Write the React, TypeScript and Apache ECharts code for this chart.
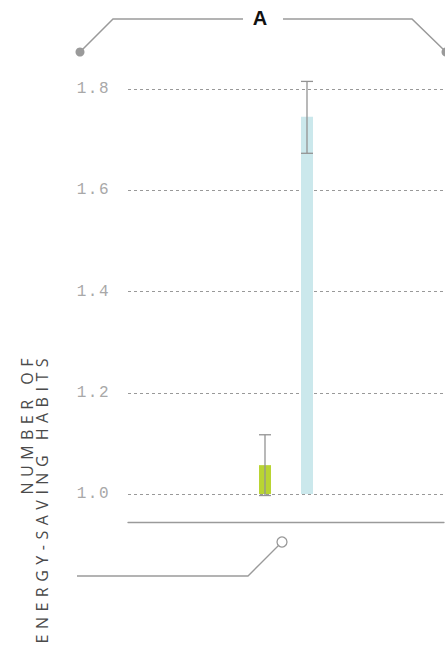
import React, { useEffect, useRef } from "react";
import * as echarts from "echarts";

// ---- data ----
const categories = ["A"];
const seriesNames = ["Group 1", "Group 2"];
const meanValues = [1.057, 1.745];
const errorLow = [0.997, 1.673];
const errorHigh = [1.117, 1.815];
const yTickValues = [1.0, 1.2, 1.4, 1.6, 1.8];
const barColors = ["#b9d433", "#cbe8ec"];
const axisTitleLines = ["NUMBER OF", "ENERGY-SAVING HABITS"];
const panelLabel = "A";

const BAR_WIDTH = 12;
const BAR_GAP_RATIO = 2.5;
const GRAY = "#9a9a9a";

export default function App() {
  const ref = useRef<HTMLDivElement>(null);

  useEffect(() => {
    if (!ref.current) return;
    const chart = echarts.init(ref.current, null, { renderer: "svg" });
    const nSeries = seriesNames.length;
    const yMin = yTickValues[0];
    const yMax = yTickValues[yTickValues.length - 1];
    const yInterval = yTickValues[1] - yTickValues[0];

    const barSeries = seriesNames.map((name, i) => ({
      name,
      type: "bar",
      data: categories.map(() => meanValues[i]),
      barWidth: BAR_WIDTH,
      barGap: BAR_GAP_RATIO * 100 + "%",
      itemStyle: { color: barColors[i] },
      z: 2,
    }));

    const errData = seriesNames.map((_, i) => [0, errorLow[i], errorHigh[i], i]);

    const titleStyle = {
      fontFamily: "Open Sans",
      fontSize: 16,
      fill: "#4a4a4a",
      textAlign: "right",
      textVerticalAlign: "middle",
    };

    const option: any = {
      animation: false,
      grid: { left: 128, right: 1, top: 89, bottom: 169 },
      xAxis: {
        type: "category",
        data: categories,
        offset: 28,
        axisLine: { show: true, lineStyle: { color: GRAY, width: 1.3 } },
        axisTick: { show: false },
        axisLabel: { show: false },
        splitLine: { show: false },
      },
      yAxis: {
        type: "value",
        min: yMin,
        max: yMax,
        interval: yInterval,
        axisLine: { show: false },
        axisTick: { show: false },
        axisLabel: {
          formatter: (v: number) => v.toFixed(1),
          fontFamily: "Liberation Mono",
          fontSize: 16,
          color: "#a8a8a8",
          margin: 18,
        },
        splitLine: {
          show: true,
          lineStyle: { color: "#999999", width: 1, type: [3, 3] },
        },
      },
      series: [
        ...barSeries,
        {
          type: "custom",
          name: "error",
          clip: false,
          z: 3,
          encode: { x: 0, y: [1, 2] },
          data: errData,
          renderItem: (params: any, api: any) => {
            const cat = api.value(0);
            const lo = api.value(1);
            const hi = api.value(2);
            const s = api.value(3);
            const offset = (s - (nSeries - 1) / 2) * BAR_WIDTH * (1 + BAR_GAP_RATIO);
            const pTop = api.coord([cat, hi]);
            const pBot = api.coord([cat, lo]);
            const x = pTop[0] + offset;
            const half = BAR_WIDTH / 2;
            const st = { stroke: "#939393", lineWidth: 1.3 };
            return {
              type: "group",
              children: [
                { type: "line", shape: { x1: x, y1: pTop[1], x2: x, y2: pBot[1] }, style: st },
                { type: "line", shape: { x1: x - half, y1: pTop[1], x2: x + half, y2: pTop[1] }, style: st },
                { type: "line", shape: { x1: x - half, y1: pBot[1], x2: x + half, y2: pBot[1] }, style: st },
              ],
            };
          },
        },
      ],
      graphic: [
        // top bracket
        {
          type: "polyline",
          shape: { points: [[80, 52], [113, 19], [243, 19]] },
          style: { stroke: GRAY, lineWidth: 1.5, fill: "none" },
        },
        {
          type: "polyline",
          shape: { points: [[283, 19], [412, 19], [446, 52]] },
          style: { stroke: GRAY, lineWidth: 1.5, fill: "none" },
        },
        { type: "circle", shape: { cx: 80, cy: 52, r: 4.5 }, style: { fill: GRAY } },
        { type: "circle", shape: { cx: 446, cy: 52, r: 4.5 }, style: { fill: GRAY } },
        {
          type: "text",
          x: 260,
          y: 17.5,
          style: {
            text: panelLabel,
            fontFamily: "Liberation Sans",
            fontWeight: "bold",
            fontSize: 20,
            fill: "#111",
            textAlign: "center",
            textVerticalAlign: "middle",
          },
        },
        // bottom bracket
        {
          type: "polyline",
          shape: { points: [[278.5, 545.5], [248, 576], [77, 576]] },
          style: { stroke: GRAY, lineWidth: 1.3, fill: "none" },
        },
        {
          type: "circle",
          shape: { cx: 282, cy: 542, r: 5 },
          style: { fill: "#fff", stroke: GRAY, lineWidth: 1.3 },
        },
        // y axis title
        {
          type: "text",
          x: 27,
          y: 353,
          rotation: Math.PI / 2,
          style: { ...titleStyle, text: axisTitleLines[0] },
        },
        {
          type: "text",
          x: 42,
          y: 353,
          rotation: Math.PI / 2,
          style: { ...titleStyle, text: axisTitleLines[1] },
        },
      ],
    };

    chart.setOption(option);
    return () => chart.dispose();
  }, []);

  return (
    <>
      <style>{`
        body { margin: 0; }
        #chart text[style*="Open Sans"] { letter-spacing: 5.5px; }
        #chart text[style*="Liberation Mono"] { letter-spacing: 1.5px; }
      `}</style>
      <div
        id="chart"
        ref={ref}
        style={{ position: "absolute", left: 0, top: 0, width: 445, height: 663 }}
      />
    </>
  );
}
